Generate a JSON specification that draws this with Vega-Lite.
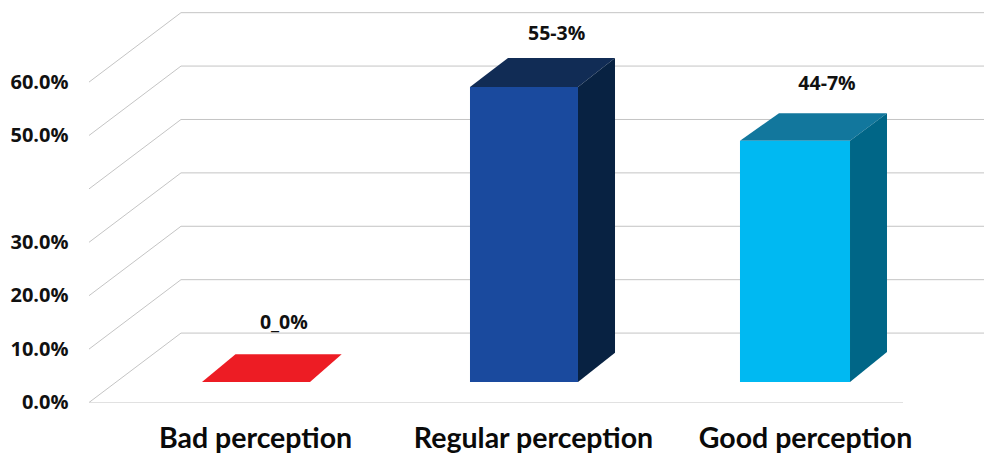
{
"$schema":"https://vega.github.io/schema/vega-lite/v6.json",
"autosize":{"type":"none"},
"padding":{"left":89,"top":0.5,"right":0,"bottom":52.5},
"width":895,"height":402,
"background":"white",
"config":{"view":{"stroke":null}},
"datasets":{
"grid":[
{"level":0,"x":0.3755,"y":0},{"level":0,"x":0.7175,"y":13},{"level":0,"x":3.7026,"y":13},
{"level":10,"x":0.3755,"y":10},{"level":10,"x":0.7175,"y":23},{"level":10,"x":3.7026,"y":23},
{"level":20,"x":0.3755,"y":20},{"level":20,"x":0.7175,"y":33},{"level":20,"x":3.7026,"y":33},
{"level":30,"x":0.3755,"y":30},{"level":30,"x":0.7175,"y":43},{"level":30,"x":3.7026,"y":43},
{"level":40,"x":0.3755,"y":40},{"level":40,"x":0.7175,"y":53},{"level":40,"x":3.7026,"y":53},
{"level":50,"x":0.3755,"y":50},{"level":50,"x":0.7175,"y":63},{"level":50,"x":3.7026,"y":63},
{"level":60,"x":0.3755,"y":60},{"level":60,"x":0.7175,"y":73},{"level":60,"x":3.7026,"y":73},
{"level":-1,"x":0.3755,"y":0},{"level":-1,"x":3.4015,"y":0}
],
"front":[
{"face":"Regular front","x":1.7918,"x2":2.1933,"y":3.84,"y2":59.08},
{"face":"Good front","x":2.7955,"x2":3.2045,"y":3.84,"y2":49.01}
],
"side":[
{"face":"Regular side","x":2.1933,"y":3.84,"y2":59.08},
{"face":"Regular side","x":2.3309,"y":9.33,"y2":64.51},
{"face":"Good side","x":3.2045,"y":3.84,"y2":49.01},
{"face":"Good side","x":3.3420,"y":9.46,"y2":54.18}
],
"top":[
{"face":"Bad top","y":3.84,"x":0.7955,"x2":1.1970},
{"face":"Bad top","y":9.03,"x":0.9201,"x2":1.3149},
{"face":"Regular top","y":59.08,"x":1.7918,"x2":2.1933},
{"face":"Regular top","y":64.51,"x":1.9331,"x2":2.3309},
{"face":"Good top","y":49.01,"x":2.7955,"x2":3.2045},
{"face":"Good top","y":54.18,"x":2.9405,"x2":3.3420}
],
"labels":[
{"perception":"Bad perception","label":"0_0%","x":1.100,"y":14.9},
{"perception":"Regular perception","label":"55-3%","x":2.114,"y":69},
{"perception":"Good perception","label":"44-7%","x":3.119,"y":59.6}
]
},
"layer":[
{"data":{"name":"grid"},
 "mark":{"type":"line","color":"#c4c4c4","strokeWidth":1,"clip":true},
 "encoding":{
  "x":{"field":"x","type":"quantitative","scale":{"domain":[0.3755,3.7026],"nice":false,"zero":false},
   "axis":{"title":null,"grid":false,"domain":false,"ticks":false,"values":[0.9926,2.026,3.0372],"labelPadding":22,"labelFont":"Lato","labelFontWeight":"bold","labelFontSize":28.5,"labelLimit":500,"labelColor":"#0a0a0a","labelBaseline":"top","labelOverlap":false,"labelBound":false,"labelFlush":false,
    "labelExpr":"datum.value<1.5?'Bad perception':datum.value<2.5?'Regular perception':'Good perception'"}},
  "y":{"field":"y","type":"quantitative","scale":{"domain":[0,75.28],"nice":false},
   "axis":{"title":null,"grid":false,"domain":false,"ticks":false,"values":[0,10,20,30,50,60],"labelPadding":21,"labelFont":"Open Sans","labelFontWeight":"bold","labelFontSize":20,"labelColor":"#111111","labelOverlap":false,"labelBound":false,"labelFlush":false,
    "labelExpr":"format(datum.value/100,'.1%')"}},
  "detail":{"field":"level","type":"nominal"},
  "order":{"field":"x","type":"quantitative"}
 }},
{"data":{"name":"top"},
 "mark":{"type":"area","orient":"horizontal","opacity":1},
 "encoding":{
  "y":{"field":"y","type":"quantitative"},
  "x":{"field":"x","type":"quantitative"},
  "x2":{"field":"x2"},
  "color":{"field":"face","type":"nominal","legend":null,"scale":{"domain":["Bad top","Regular top","Good top","Regular side","Good side","Regular front","Good front"],"range":["#ed1c24","#112c55","#12779d","#082242","#006687","#1a4a9e","#00b9f2"]}}
 }},
{"data":{"name":"side"},
 "mark":{"type":"area","orient":"vertical","opacity":1},
 "encoding":{
  "x":{"field":"x","type":"quantitative"},
  "y":{"field":"y","type":"quantitative"},
  "y2":{"field":"y2"},
  "color":{"field":"face","type":"nominal","legend":null}
 }},
{"data":{"name":"front"},
 "mark":{"type":"rect"},
 "encoding":{
  "x":{"field":"x","type":"quantitative"},
  "x2":{"field":"x2"},
  "y":{"field":"y","type":"quantitative"},
  "y2":{"field":"y2"},
  "color":{"field":"face","type":"nominal","legend":null}
 }},
{"data":{"name":"labels"},
 "mark":{"type":"text","font":"Open Sans","fontWeight":"bold","fontSize":19.5,"color":"#111111","align":"center","baseline":"middle"},
 "encoding":{
  "x":{"field":"x","type":"quantitative"},
  "y":{"field":"y","type":"quantitative"},
  "text":{"field":"label","type":"nominal"}
 }}
]
}
